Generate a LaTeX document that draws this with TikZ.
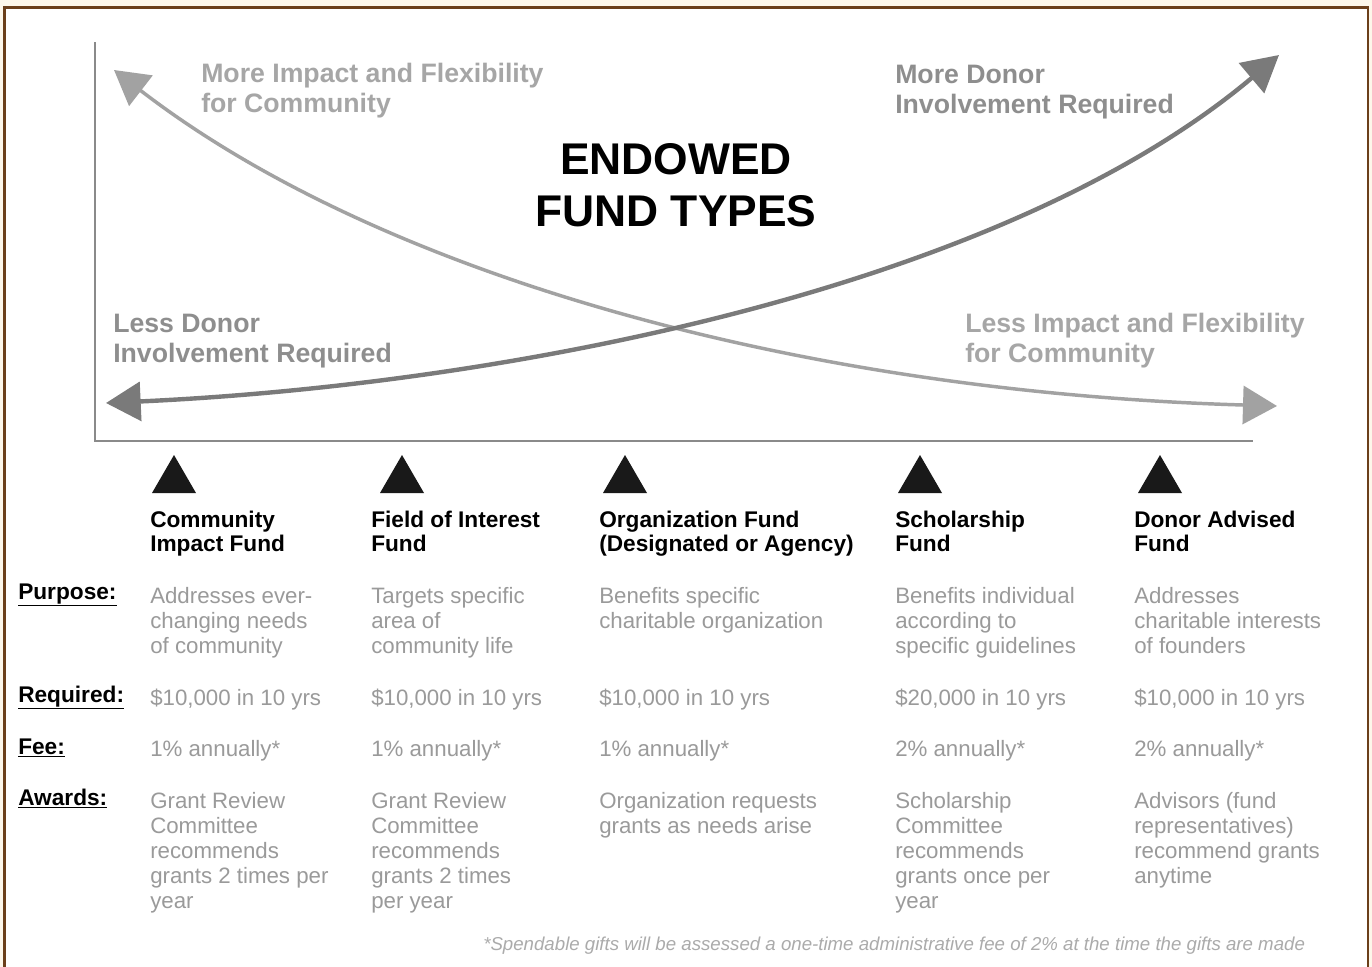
\documentclass[tikz,border=0pt]{standalone}
\usepackage{fontspec}
\setmainfont{Liberation Sans}
\usetikzlibrary{arrows.meta}
\definecolor{framebrown}{HTML}{6B3F1A}
\definecolor{cream}{HTML}{FDF7EA}
\definecolor{axisgray}{HTML}{8A8A8A}
\definecolor{impactgray}{HTML}{A2A2A2}
\definecolor{donorgray}{HTML}{7A7A7A}
\definecolor{lightlbl}{HTML}{A6A6A6}
\definecolor{darklbl}{HTML}{8E8E8E}
\definecolor{bodygray}{HTML}{9A9A9A}
\definecolor{notegray}{HTML}{ABABAB}
\tikzset{
  titletext/.style={font=\fontsize{33.3}{39}\selectfont\bfseries, align=center, text=black, inner sep=0pt},
  curvelbl/.style={font=\fontsize{20}{22}\selectfont\bfseries, align=left, anchor=base west, inner sep=0pt},
  headtext/.style={font=\fontsize{17}{18}\selectfont\bfseries, align=left, anchor=base west, inner sep=0pt, text=black},
  rowlbl/.style={font=\fontsize{17}{18}\selectfont\bfseries, anchor=base west, inner sep=0pt, text=black},
  bodytext/.style={font=\fontsize{16.7}{18.75}\selectfont, align=left, anchor=base west, inner sep=0pt, text=bodygray},
  notetext/.style={font=\fontsize{14}{16}\selectfont\itshape, anchor=base west, inner sep=0pt, text=notegray},
  marker/.style={fill=black!90},
}
\begin{document}
\begin{tikzpicture}[x=0.75pt,y=-0.75pt]
\useasboundingbox (0,0) rectangle (1372,967);
% background and frame
\fill[cream] (0,0) rectangle (1372,967);
\fill[white] (4.5,7.5) rectangle (1368,967);
\draw[framebrown, line width=2.2pt] (4.5,967) -- (4.5,7.5) -- (1368,7.5) -- (1368,967);

% axes
\coordinate (ytop) at (95,42);
\coordinate (origin) at (95,441);
\coordinate (xend) at (1253,441);
\draw[axisgray, line width=2.2pt] (ytop) -- (origin) -- (xend);

% curves
\coordinate (impTL) at (114,70);
\coordinate (impBR) at (1277,406);
\coordinate (donL) at (106,403);
\coordinate (donTR) at (1279,55);
\draw[impactgray, line width=2.6pt,
  {Triangle[length=25.5pt,width=28.5pt]}-{Triangle[length=25.5pt,width=28.5pt]}]
  (impTL) .. controls (380,275) and (800,392) .. (impBR);
\draw[donorgray, line width=3.3pt,
  {Triangle[length=26pt,width=29pt]}-{Triangle[length=27pt,width=29pt]}]
  (donL) .. controls (500,385) and (1000,290) .. (donTR);

% title
\node[titletext, anchor=base] (title1) at (676,174) {ENDOWED};
\node[titletext, anchor=base] (title2) at (676,226) {FUND TYPES};

% curve labels (anchored at the baseline of their last line)
\node[curvelbl, text=lightlbl] (moreimpact) at (201,112) {More Impact and Flexibility\\for Community};
\node[curvelbl, text=darklbl] (moredonor) at (895,113) {More Donor\\Involvement Required};
\node[curvelbl, text=darklbl] (lessdonor) at (113,362) {Less Donor\\Involvement Required};
\node[curvelbl, text=lightlbl] (lessimpact) at (965,362) {Less Impact and Flexibility\\for Community};

% markers
\foreach \cx/\nm in {174/m1, 402/m2, 625/m3, 920/m4, 1160/m5}{
  \fill[marker] (\cx,455) -- (\cx+22,493) -- (\cx-22,493) -- cycle;
}

% headings
\node[headtext] (h1) at (150,551) {Community\\Impact Fund};
\node[headtext] (h2) at (371,551) {Field of Interest\\Fund};
\node[headtext] (h3) at (599,551) {Organization Fund\\(Designated or Agency)};
\node[headtext] (h4) at (895,551) {Scholarship\\Fund};
\node[headtext] (h5) at (1134,551) {Donor Advised\\Fund};

% row labels
\node[rowlbl] (lpurpose) at (18,599) {\underline{Purpose:}};
\node[rowlbl] (lrequired) at (18,702) {\underline{Required:}};
\node[rowlbl] (lfee) at (18,754) {\underline{Fee:}};
\node[rowlbl] (lawards) at (18,805) {\underline{Awards:}};

% purpose
\node[bodytext] (p1) at (150,653) {Addresses ever-\\changing needs\\of community};
\node[bodytext] (p2) at (371,653) {Targets specific\\area of\\community life};
\node[bodytext] (p3) at (599,628) {Benefits specific\\charitable organization};
\node[bodytext] (p4) at (895,653) {Benefits individual\\according to\\specific guidelines};
\node[bodytext] (p5) at (1134,653) {Addresses\\charitable interests\\of founders};

% required
\node[bodytext] (r1) at (150,705) {\$10,000 in 10 yrs};
\node[bodytext] (r2) at (371,705) {\$10,000 in 10 yrs};
\node[bodytext] (r3) at (599,705) {\$10,000 in 10 yrs};
\node[bodytext] (r4) at (895,705) {\$20,000 in 10 yrs};
\node[bodytext] (r5) at (1134,705) {\$10,000 in 10 yrs};

% fee
\node[bodytext] (f1) at (150,756) {1\% annually*};
\node[bodytext] (f2) at (371,756) {1\% annually*};
\node[bodytext] (f3) at (599,756) {1\% annually*};
\node[bodytext] (f4) at (895,756) {2\% annually*};
\node[bodytext] (f5) at (1134,756) {2\% annually*};

% awards
\node[bodytext] (a1) at (150,908) {Grant Review\\Committee\\recommends\\grants 2 times per\\year};
\node[bodytext] (a2) at (371,908) {Grant Review\\Committee\\recommends\\grants 2 times\\per year};
\node[bodytext] (a3) at (599,833) {Organization requests\\grants as needs arise};
\node[bodytext] (a4) at (895,908) {Scholarship\\Committee\\recommends\\grants once per\\year};
\node[bodytext] (a5) at (1134,883) {Advisors (fund\\representatives)\\recommend grants\\anytime};

% footnote
\node[notetext] (note) at (483,950) {*Spendable gifts will be assessed a one-time administrative fee of 2\% at the time the gifts are made};
\end{tikzpicture}
\end{document}
